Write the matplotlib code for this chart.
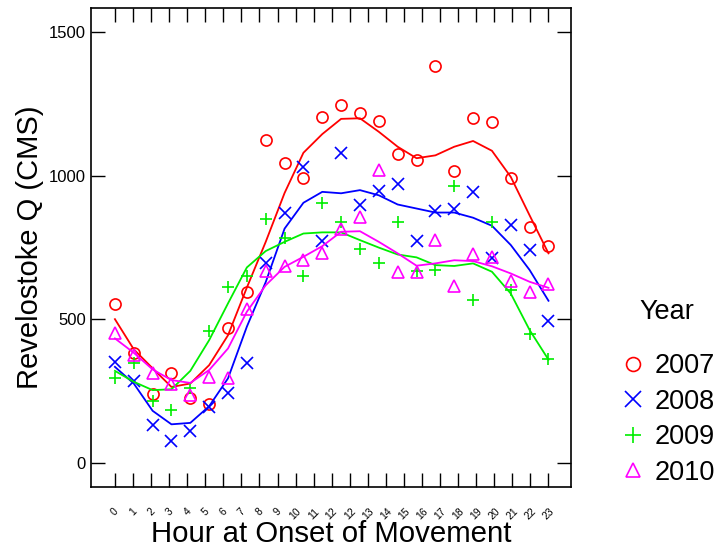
import numpy as np
import matplotlib
matplotlib.use('Agg')
import matplotlib.pyplot as plt
from matplotlib.lines import Line2D

plt.rcParams['font.family'] = ['Liberation Sans', 'DejaVu Sans']

hours = list(range(24))
tick_labels = ['0', '1', '2', '3', '4', '5', '6', '7', '8', '9', '10', '11', '12',
               '12', '13', '14', '15', '16', '17', '18', '19', '20', '21', '22', '23']

years = ['2007', '2008', '2009', '2010']

# observed points
q_2007 = [553, 382, 240, 312, 225, 205, 469, 595, 1126, 1046, 993, 1205,
          1247, 1220, 1190, 1074, 1055, 1381, 1016, 1200, 1187, 993, 822, 755]
q_2008 = [353, 285, 132, 78, 111, 196, 243, 347, 695, 872, 1031, 772,
          1080, 898, 946, 973, 772, 877, 886, 944, 714, 830, 741, 494]
q_2009 = [297, 349, 217, 184, 260, 460, 613, 651, 848, 785, 652, 906,
          840, 744, 698, 840, 668, 672, 965, 567, 840, 604, 449, 361]
q_2010 = [452, 376, 314, 277, 237, 298, 295, 538, 668, 685, 706, 730,
          813, 857, 1020, 666, 666, 778, 616, 726, 718, 634, 596, 625]

# smoothed curves
fit_2007 = [501, 396, 330, 265, 277, 341, 445, 611, 770, 940, 1080, 1145,
            1198, 1200, 1153, 1101, 1061, 1071, 1101, 1121, 1087, 996, 862, 730]
fit_2008 = [335, 277, 182, 135, 140, 198, 295, 475, 630, 816, 906, 944,
            939, 950, 932, 900, 886, 872, 872, 854, 826, 759, 672, 565]
fit_2009 = [321, 283, 254, 257, 321, 428, 556, 681, 738, 770, 799, 803,
            803, 776, 750, 726, 716, 689, 686, 695, 666, 590, 463, 360]
fit_2010 = [434, 384, 326, 289, 279, 324, 399, 527, 619, 683, 718, 755,
            805, 807, 770, 730, 687, 695, 706, 703, 685, 660, 631, 610]

points = [q_2007, q_2008, q_2009, q_2010]
fits = [fit_2007, fit_2008, fit_2009, fit_2010]
colors = ['#ff0000', '#0000ff', '#00ee00', '#ff00ff']
markers = ['o', 'x', '+', '^']

fig = plt.figure(figsize=(7.22, 5.49), dpi=100)
ax = fig.add_axes([0.126, 0.113, 0.665, 0.872])

for pts, fit, c, m in zip(points, fits, colors, markers):
    if m in ('x', '+'):
        ax.plot(hours, pts, ls='none', marker=m, color=c, ms=9, mew=1.2)
    else:
        ax.plot(hours, pts, ls='none', marker=m, mfc='none', mec=c, ms=8, mew=1.2)
    ax.plot(hours, fit, color=c, lw=1.3)

ax.set_xlim(-1.27, 24.2)
ax.set_ylim(-83, 1583)

ax.set_xticks(np.linspace(0, 23, 25))
ax.set_xticklabels(tick_labels, rotation=45, fontsize=7.5)
ax.set_yticks([0, 500, 1000, 1500])
ax.tick_params(axis='both', direction='in', length=10, width=1,
               top=True, right=True)
ax.tick_params(axis='y', labelsize=12)
ax.tick_params(axis='x', pad=14)
for s in ax.spines.values():
    s.set_linewidth(1.2)

ax.set_xlabel('Hour at Onset of Movement', fontsize=21.2, labelpad=-1)
ax.set_ylabel('Revelostoke Q (CMS)', fontsize=21, labelpad=4)

handles = []
for c, m in zip(colors, markers):
    if m in ('x', '+'):
        handles.append(Line2D([], [], ls='none', marker=m, color=c, ms=11, mew=1.2))
    else:
        handles.append(Line2D([], [], ls='none', marker=m, mfc='none', mec=c, ms=10, mew=1.2))
leg = fig.legend(handles, years, title='Year', loc='center left',
                 bbox_to_anchor=(0.824, 0.285), frameon=False, fontsize=19.5,
                 title_fontsize=19.5, handletextpad=0.3, labelspacing=0.35,
                 handlelength=1.0)
leg._legend_box.sep = 20

fig.savefig('out.png', dpi=100)
